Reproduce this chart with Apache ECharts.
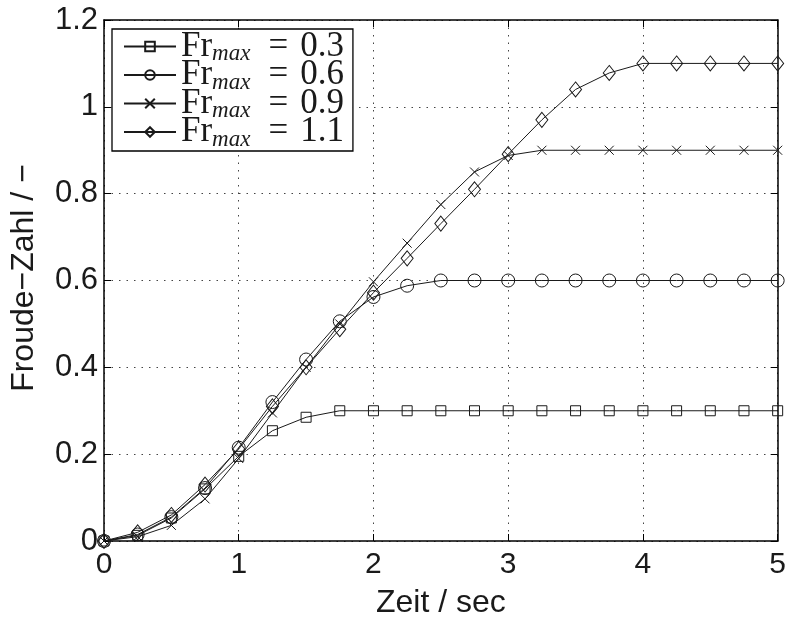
<!DOCTYPE html>
<html>
<head>
<meta charset="utf-8">
<script src="https://cdn.jsdelivr.net/npm/echarts@6/dist/echarts.min.js"></script>
<style>
  html, body { margin: 0; padding: 0; background: #fff; }
  #chart { width: 789px; height: 624px; }
</style>
</head>
<body>
<div id="chart"></div>
<script>
// Time samples (s)
const times = [0, 0.25, 0.5, 0.75, 1, 1.25, 1.5, 1.75, 2, 2.25, 2.5,
               2.75, 3, 3.25, 3.5, 3.75, 4, 4.25, 4.5, 4.75, 5];

// Froude number run-up for each target Fr_max
const fr03 = [0, 0.013, 0.053, 0.12, 0.195, 0.254, 0.285, 0.30, 0.30, 0.30, 0.30,
              0.30, 0.30, 0.30, 0.30, 0.30, 0.30, 0.30, 0.30, 0.30, 0.30];
const fr06 = [0, 0.015, 0.055, 0.122, 0.215, 0.32, 0.418, 0.506, 0.562, 0.588, 0.60,
              0.60, 0.60, 0.60, 0.60, 0.60, 0.60, 0.60, 0.60, 0.60, 0.60];
const fr09 = [0, 0.01, 0.036, 0.097, 0.19, 0.295, 0.40, 0.50, 0.597, 0.686, 0.775,
              0.85, 0.888, 0.90, 0.90, 0.90, 0.90, 0.90, 0.90, 0.90, 0.90];
const fr11 = [0, 0.02, 0.06, 0.13, 0.212, 0.31, 0.40, 0.488, 0.572, 0.651, 0.731,
              0.81, 0.891, 0.97, 1.04, 1.078, 1.10, 1.10, 1.10, 1.10, 1.10];

const legendValues = ['0.3', '0.6', '0.9', '1.1'];

const chart = echarts.init(document.getElementById('chart'), null, { renderer: 'canvas' });

const lineColor = '#1a1a1a';
const textColor = '#1a1a1a';
const crossPath = 'path://M0,0L10,10M10,0L0,10';

function pairs(ys) {
  return times.map((t, i) => [t, ys[i]]);
}

function makeSeries(name, ys, symbol, size) {
  return {
    name: name,
    type: 'line',
    data: pairs(ys),
    symbol: symbol,
    symbolSize: size,
    showAllSymbol: true,
    lineStyle: { color: lineColor, width: 1 },
    itemStyle: { color: 'rgba(0,0,0,0)', borderColor: lineColor, borderWidth: 1 },
    emphasis: { disabled: true },
    z: 3
  };
}

const names = legendValues.map(v => 'Fr' + v);

const axisCommon = {
  type: 'value',
  axisLine: { show: true, onZero: false, lineStyle: { color: '#000', width: 1.5 } },
  axisTick: { show: true, inside: true, length: 7, lineStyle: { color: '#000', width: 1 } },
  splitLine: { show: false }
};

const gridDots = { show: true, lineStyle: { color: '#444', width: 1, type: [1.5, 6] } };

const option = {
  backgroundColor: '#fff',
  animation: false,
  grid: { left: 103, right: 8, top: 20, bottom: 75, containLabel: false },
  xAxis: [
    Object.assign({}, axisCommon, {
      position: 'bottom',
      min: 0, max: 5, interval: 1,
      name: 'Zeit / sec',
      nameLocation: 'middle',
      nameGap: 46,
      nameTextStyle: { fontFamily: 'Liberation Sans', fontSize: 32, color: textColor },
      axisLabel: { fontFamily: 'Liberation Sans', fontSize: 30, color: textColor, margin: 9 },
      splitLine: gridDots
    }),
    Object.assign({}, axisCommon, {
      position: 'top',
      min: 0, max: 5, interval: 1,
      axisLabel: { show: false }
    })
  ],
  yAxis: [
    Object.assign({}, axisCommon, {
      position: 'left',
      min: 0, max: 1.2, interval: 0.2,
      name: 'Froude\u2212Zahl / \u2212',
      nameLocation: 'middle',
      nameGap: 64,
      nameTextStyle: { fontFamily: 'Liberation Sans', fontSize: 32, color: textColor, padding: [0, 0, 0, 5] },
      axisLabel: {
        fontFamily: 'Liberation Sans', fontSize: 31, color: textColor, margin: 6,
        formatter: v => String(Math.round(v * 10) / 10)
      },
      splitLine: gridDots
    }),
    Object.assign({}, axisCommon, {
      position: 'right',
      min: 0, max: 1.2, interval: 0.2,
      axisLabel: { show: false }
    })
  ],
  legend: {
    show: true,
    orient: 'vertical',
    left: 112,
    top: 29,
    padding: [0, 9, 0, 11],
    itemGap: -8,
    itemWidth: 52,
    itemHeight: 12,
    backgroundColor: '#fff',
    borderColor: '#000',
    borderWidth: 1.3,
    borderRadius: 0,
    data: names,
    formatter: function (name) {
      const v = name.slice(2);
      return '{fr|Fr}{sub|max}{eq|=}{num|' + v + '}';
    },
    textStyle: {
      color: textColor,
      rich: {
        fr: { fontFamily: 'Liberation Serif', fontSize: 35, height: 29, lineHeight: 29 },
        sub: { fontFamily: 'Liberation Serif', fontStyle: 'italic', fontSize: 23, height: 14, lineHeight: 14, verticalAlign: 'bottom', padding: [0, 4, 0, 0] },
        eq: { fontFamily: 'Liberation Serif', fontSize: 35, height: 29, lineHeight: 29, padding: [0, 12, 0, 14] },
        num: { fontFamily: 'Liberation Serif', fontSize: 35, height: 29, lineHeight: 29 }
      }
    }
  },
  series: [
    makeSeries(names[0], fr03, 'rect', 10),
    makeSeries(names[1], fr06, 'circle', 13),
    makeSeries(names[2], fr09, crossPath, 9),
    makeSeries(names[3], fr11, 'diamond', [12, 15])
  ]
};

chart.setOption(option);
</script>
</body>
</html>
